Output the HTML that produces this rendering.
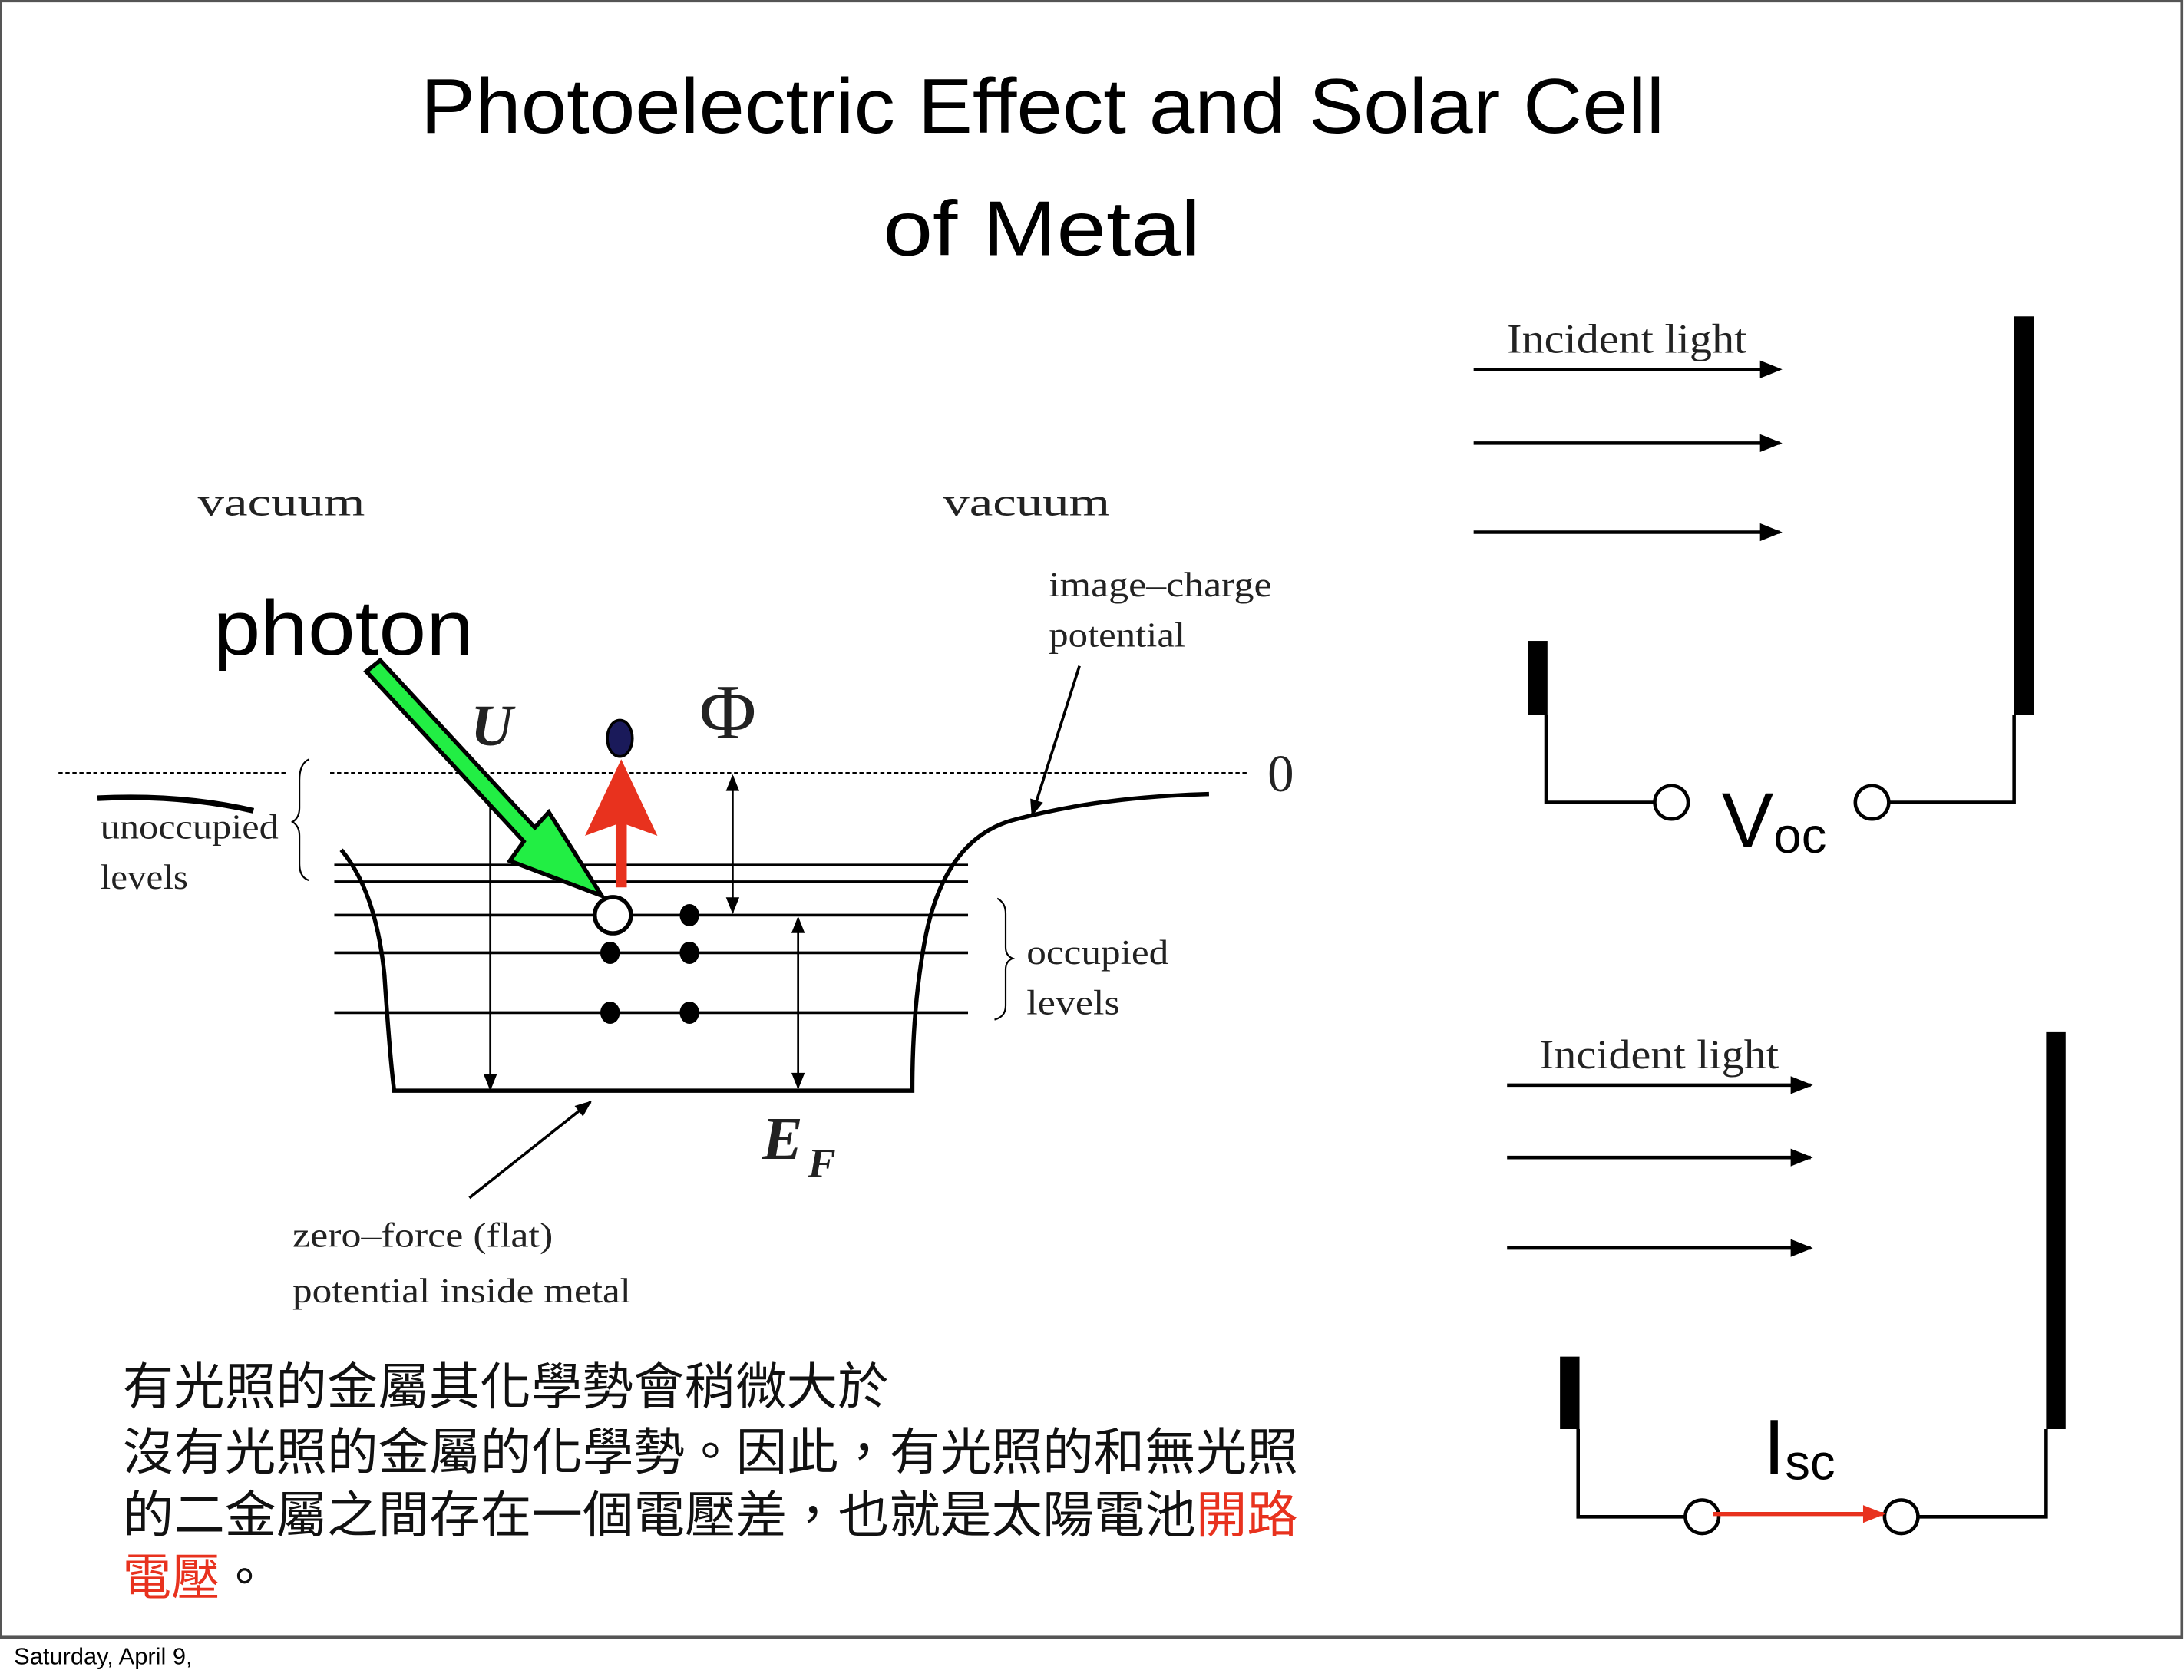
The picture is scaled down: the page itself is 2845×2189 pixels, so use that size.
<!DOCTYPE html>
<html><head><meta charset="utf-8"><style>
html,body{margin:0;padding:0;background:#fff;width:2845px;height:2189px;overflow:hidden}
svg{display:block}
.s{font-family:"Liberation Sans",sans-serif}
.r{font-family:"Liberation Serif",serif}
.c{font-family:"Liberation Sans","Noto Sans CJK TC",sans-serif}
</style></head><body>
<svg width="2845" height="2189" viewBox="0 0 1568 1206" xmlns="http://www.w3.org/2000/svg">
<defs>
<marker id="ah" viewBox="0 0 10 10" refX="9" refY="5" markerWidth="16" markerHeight="12" markerUnits="userSpaceOnUse" orient="auto-start-reverse"><path d="M0,1 L10,5 L0,9 z" fill="#000"/></marker>
<marker id="ab" viewBox="0 0 10 10" refX="9" refY="5" markerWidth="32" markerHeight="16" markerUnits="userSpaceOnUse" orient="auto"><path d="M0,1 L10,5 L0,9 z" fill="#000"/></marker>
<marker id="ar" viewBox="0 0 10 10" refX="9" refY="5" markerWidth="22" markerHeight="16" markerUnits="userSpaceOnUse" orient="auto"><path d="M0,1 L10,5 L0,9 z" fill="#e8321e"/></marker>
</defs>
<rect x="0.5" y="0.5" width="1566" height="1175" fill="#fff" stroke="#555" stroke-width="2"/>
<text class="s" x="302" y="95" font-size="56" textLength="893" lengthAdjust="spacingAndGlyphs">Photoelectric Effect and Solar Cell</text>
<text class="s" x="634" y="183" font-size="56" textLength="228" lengthAdjust="spacingAndGlyphs">of  Metal</text>
<text class="s" x="10" y="1195" font-size="17">Saturday, April 9,</text>

<!-- left diagram -->
<g class="r" fill="#222">
<text x="142" y="370" font-size="28" textLength="120" lengthAdjust="spacingAndGlyphs">vacuum</text>
<text x="677" y="370" font-size="28" textLength="120" lengthAdjust="spacingAndGlyphs">vacuum</text>
<text x="753" y="428" font-size="25" textLength="160" lengthAdjust="spacingAndGlyphs">image–charge</text>
<text x="753" y="464" font-size="25" textLength="98" lengthAdjust="spacingAndGlyphs">potential</text>
<text x="72" y="602" font-size="25" textLength="128" lengthAdjust="spacingAndGlyphs">unoccupied</text>
<text x="72" y="638" font-size="25" textLength="63" lengthAdjust="spacingAndGlyphs">levels</text>
<text x="737" y="692" font-size="25" textLength="102" lengthAdjust="spacingAndGlyphs">occupied</text>
<text x="737" y="728" font-size="25" textLength="67" lengthAdjust="spacingAndGlyphs">levels</text>
<text x="210" y="895" font-size="25" textLength="187" lengthAdjust="spacingAndGlyphs">zero–force (flat)</text>
<text x="210" y="935" font-size="25" textLength="243" lengthAdjust="spacingAndGlyphs">potential inside metal</text>
<text x="910" y="568" font-size="38">0</text>
<text x="338" y="535" font-size="42" font-style="italic" font-weight="bold">U</text>
<text x="547" y="832" font-size="44" font-style="italic" font-weight="bold">E</text>
<text x="580" y="845" font-size="30" font-style="italic" font-weight="bold">F</text>
<text x="502" y="530" font-size="56">Φ</text>
</g>
<g stroke="#000" fill="none">
<line x1="42" y1="555" x2="205" y2="555" stroke-width="1.5" stroke-dasharray="3,2"/>
<line x1="237" y1="555" x2="895" y2="555" stroke-width="1.5" stroke-dasharray="3,2"/>
<path d="M70,573 Q130,570 182,582" stroke-width="4"/>
<path d="M222,545 Q215,548 215,560 L215,580 Q215,587 210,590 Q215,593 215,600 L215,620 Q215,630 222,632" stroke-width="1.2"/>
<path d="M716,645 Q722,648 722,656 L722,680 Q722,686 727,688 Q722,690 722,696 L722,722 Q722,730 714,732" stroke-width="1.2"/>
<g stroke-width="2">
<line x1="240" y1="621" x2="695" y2="621"/>
<line x1="240" y1="633" x2="695" y2="633"/>
<line x1="240" y1="657" x2="695" y2="657"/>
<line x1="240" y1="684" x2="695" y2="684"/>
<line x1="240" y1="727" x2="695" y2="727"/>
</g>
<path d="M245,610 Q270,640 276,700 Q280,760 283,783 L655,783 Q655,720 665,670 Q680,600 730,588 Q790,572 868,570" stroke-width="3"/>
<line x1="352" y1="575" x2="352" y2="782" stroke-width="1.5" marker-end="url(#ah)"/>
<line x1="526" y1="557" x2="526" y2="655" stroke-width="1.5" marker-start="url(#ah)" marker-end="url(#ah)"/>
<line x1="573" y1="659" x2="573" y2="781" stroke-width="1.5" marker-start="url(#ah)" marker-end="url(#ah)"/>
<line x1="775" y1="478" x2="741" y2="585" stroke-width="2" marker-end="url(#ah)"/>
<line x1="337" y1="860" x2="424" y2="791" stroke-width="2" marker-end="url(#ah)"/>
</g>
<polygon points="263,482 273,474 384,594 394,583 432,643 366,618 376,604" fill="#22ee44" stroke="#000" stroke-width="3" stroke-linejoin="miter"/>
<polygon points="442,637 442,592 420,600 446,545 472,600 450,592 450,637" fill="#e8321e"/>
<ellipse cx="445" cy="530" rx="9" ry="13" fill="#1a1a5a" stroke="#000" stroke-width="2"/>
<circle cx="440" cy="657" r="13" fill="#fff" stroke="#000" stroke-width="3"/>
<g fill="#000">
<ellipse cx="495" cy="657" rx="7" ry="8"/><ellipse cx="438" cy="684" rx="7" ry="8"/><ellipse cx="495" cy="684" rx="7" ry="8"/><ellipse cx="438" cy="727" rx="7" ry="8"/><ellipse cx="495" cy="727" rx="7" ry="8"/>
</g>
<text class="s" x="153" y="470" font-size="56" textLength="187" lengthAdjust="spacingAndGlyphs">photon</text>

<!-- Chinese text -->
<g class="c" font-size="36" fill="#111">
<text x="88" y="1008" textLength="550" lengthAdjust="spacingAndGlyphs">有光照的金屬其化學勢會稍微大於</text>
<text x="88" y="1055" textLength="844" lengthAdjust="spacingAndGlyphs">沒有光照的金屬的化學勢。因此，有光照的和無光照</text>
<text x="88" y="1100" textLength="844" lengthAdjust="spacingAndGlyphs">的二金屬之間存在一個電壓差，也就是太陽電池<tspan fill="#e8321e">開路</tspan></text>
<text x="88" y="1145" textLength="105" lengthAdjust="spacingAndGlyphs"><tspan fill="#e8321e">電壓</tspan>。</text>
</g>

<!-- top right -->
<text class="r" x="1082" y="253" font-size="30" fill="#222" textLength="172" lengthAdjust="spacingAndGlyphs">Incident light</text>
<g stroke="#000" stroke-width="2.5">
<line x1="1058" y1="265" x2="1278" y2="265" marker-end="url(#ab)"/>
<line x1="1058" y1="318" x2="1278" y2="318" marker-end="url(#ab)"/>
<line x1="1058" y1="382" x2="1278" y2="382" marker-end="url(#ab)"/>
</g>
<rect x="1446" y="227" width="14" height="286" fill="#000"/>
<rect x="1097" y="460" width="14" height="53" fill="#000"/>
<g fill="none" stroke="#000" stroke-width="2.5">
<polyline points="1110,513 1110,576 1188,576"/>
<polyline points="1356,576 1446,576 1446,513"/>
<circle cx="1200" cy="576" r="12" fill="#fff"/>
<circle cx="1344" cy="576" r="12" fill="#fff"/>
</g>
<text class="s" x="1236" y="608" font-size="56">V<tspan font-size="36" dy="4">oc</tspan></text>

<!-- bottom right -->
<text class="r" x="1105" y="767" font-size="30" fill="#222" textLength="172" lengthAdjust="spacingAndGlyphs">Incident light</text>
<g stroke="#000" stroke-width="2.5">
<line x1="1082" y1="779" x2="1300" y2="779" marker-end="url(#ab)"/>
<line x1="1082" y1="831" x2="1300" y2="831" marker-end="url(#ab)"/>
<line x1="1082" y1="896" x2="1300" y2="896" marker-end="url(#ab)"/>
</g>
<rect x="1469" y="741" width="14" height="285" fill="#000"/>
<rect x="1120" y="974" width="14" height="52" fill="#000"/>
<g fill="none" stroke="#000" stroke-width="2.5">
<polyline points="1133,1026 1133,1089 1210,1089"/>
<polyline points="1377,1089 1469,1089 1469,1026"/>
<circle cx="1222" cy="1089" r="12" fill="#fff"/>
<circle cx="1365" cy="1089" r="12" fill="#fff"/>
</g>
<line x1="1230" y1="1087" x2="1352" y2="1087" stroke="#e8321e" stroke-width="3" marker-end="url(#ar)"/>
<text class="s" x="1266" y="1058" font-size="56">I<tspan font-size="36" dy="4">sc</tspan></text>
</svg>
</body></html>
